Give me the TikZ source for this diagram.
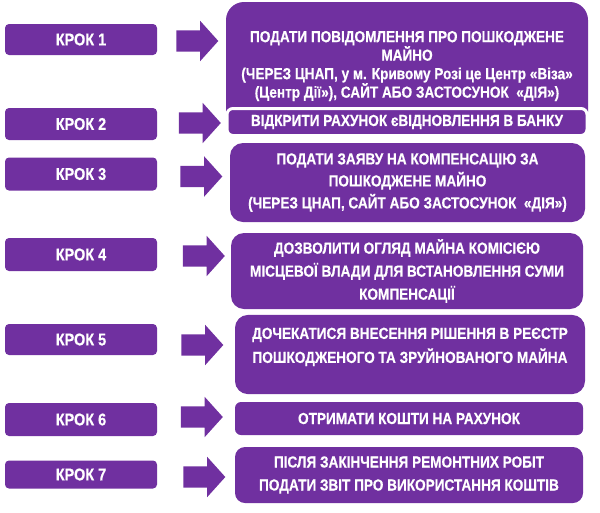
\documentclass[tikz,border=0pt]{standalone}
\usepackage{fontspec}
\setmainfont{Liberation Sans}[FakeStretch=0.85, BoldFeatures={FakeBold=0.4}]
\usetikzlibrary{shapes.arrows}
\definecolor{stepviolet}{HTML}{7030A0}

\begin{document}
\begin{tikzpicture}[x=1pt, y=-1pt,
    krok/.style={fill=stepviolet, text=white, rounded corners=4pt, minimum width=152pt, inner sep=0pt, font=\fontsize{17}{19}\selectfont\bfseries},
    stepbox/.style={fill=stepviolet, text=white, align=center, inner sep=0pt, font=\fontsize{16}{22}\selectfont\bfseries},
    blockarr/.style={single arrow, fill=stepviolet, inner xsep=0pt, inner ysep=10.5pt, minimum width=40pt, minimum height=42pt, single arrow head extend=9.5pt, single arrow tip angle=96}]
      \useasboundingbox (0,0) rectangle (600,512);

      % steps on the left
      \node[krok, minimum height=31pt] (krok1) at (81,39.5) {КРОК 1};
      \node[krok, minimum height=32pt] (krok2) at (81,124) {КРОК 2};
      \node[krok, minimum height=33pt] (krok3) at (81,174) {КРОК 3};
      \node[krok, minimum height=33pt] (krok4) at (81,254.5) {КРОК 4};
      \node[krok, minimum height=31pt] (krok5) at (81,339.5) {КРОК 5};
      \node[krok, minimum height=33pt] (krok6) at (81,419.5) {КРОК 6};
      \node[krok, minimum height=28pt] (krok7) at (81,474.5) {КРОК 7};

      % block arrows
      \node[blockarr] (arr1) at (192.5,41) {};
      \node[blockarr] (arr2) at (195,123) {};
      \node[blockarr] (arr3) at (196.5,176.5) {};
      \node[blockarr] (arr4) at (199,256) {};
      \node[blockarr] (arr5) at (197.5,345) {};
      \node[blockarr] (arr6) at (197,417) {};
      \node[blockarr] (arr7) at (199.5,477) {};

      % actions on the right
      \node[stepbox, minimum width=362pt, minimum height=128pt, rounded corners=18pt, font=\fontsize{16}{18.5}\selectfont\bfseries] (act1) at (407,66)
        {ПОДАТИ ПОВІДОМЛЕННЯ ПРО ПОШКОДЖЕНЕ\\МАЙНО\\(ЧЕРЕЗ ЦНАП, у м. Кривому Розі це Центр «Віза»\\(Центр Дії»), САЙТ АБО ЗАСТОСУНОК~ «ДІЯ»)};
      \node[stepbox, draw=white, line width=3pt, minimum width=360pt, minimum height=27pt, rounded corners=6pt] (act2) at (407,122)
        {ВІДКРИТИ РАХУНОК єВІДНОВЛЕННЯ В БАНКУ};
      \node[stepbox, minimum width=355pt, minimum height=79pt, rounded corners=13pt] (act3) at (407.5,182.5)
        {ПОДАТИ ЗАЯВУ НА КОМПЕНСАЦІЮ ЗА\\ПОШКОДЖЕНЕ МАЙНО\\(ЧЕРЕЗ ЦНАП, САЙТ АБО ЗАСТОСУНОК~ «ДІЯ»)};
      \node[stepbox, minimum width=352pt, minimum height=76pt, rounded corners=13pt, font=\fontsize{16}{23}\selectfont\bfseries] (act4) at (407,271)
        {ДОЗВОЛИТИ ОГЛЯД МАЙНА КОМІСІЄЮ\\МІСЦЕВОЇ ВЛАДИ ДЛЯ ВСТАНОВЛЕННЯ СУМИ\\КОМПЕНСАЦІЇ};
      \node[stepbox, minimum width=350pt, minimum height=75pt, rounded corners=13pt, font=\fontsize{16}{24}\selectfont\bfseries] (act5) at (410,354.5)
        {\rule{0pt}{24pt}ДОЧЕКАТИСЯ ВНЕСЕННЯ РІШЕННЯ В РЕЄСТР\\ПОШКОДЖЕНОГО ТА ЗРУЙНОВАНОГО МАЙНА\\\strut};
      \node[stepbox, minimum width=348pt, minimum height=33pt, rounded corners=6pt] (act6) at (409,418.5)
        {ОТРИМАТИ КОШТИ НА РАХУНОК};
      \node[stepbox, minimum width=348pt, minimum height=56pt, rounded corners=10pt, font=\fontsize{16}{23}\selectfont\bfseries] (act7) at (409,475)
        {ПІСЛЯ ЗАКІНЧЕННЯ РЕМОНТНИХ РОБІТ\\ПОДАТИ ЗВІТ ПРО ВИКОРИСТАННЯ КОШТІВ};
    \end{tikzpicture}
\end{document}
